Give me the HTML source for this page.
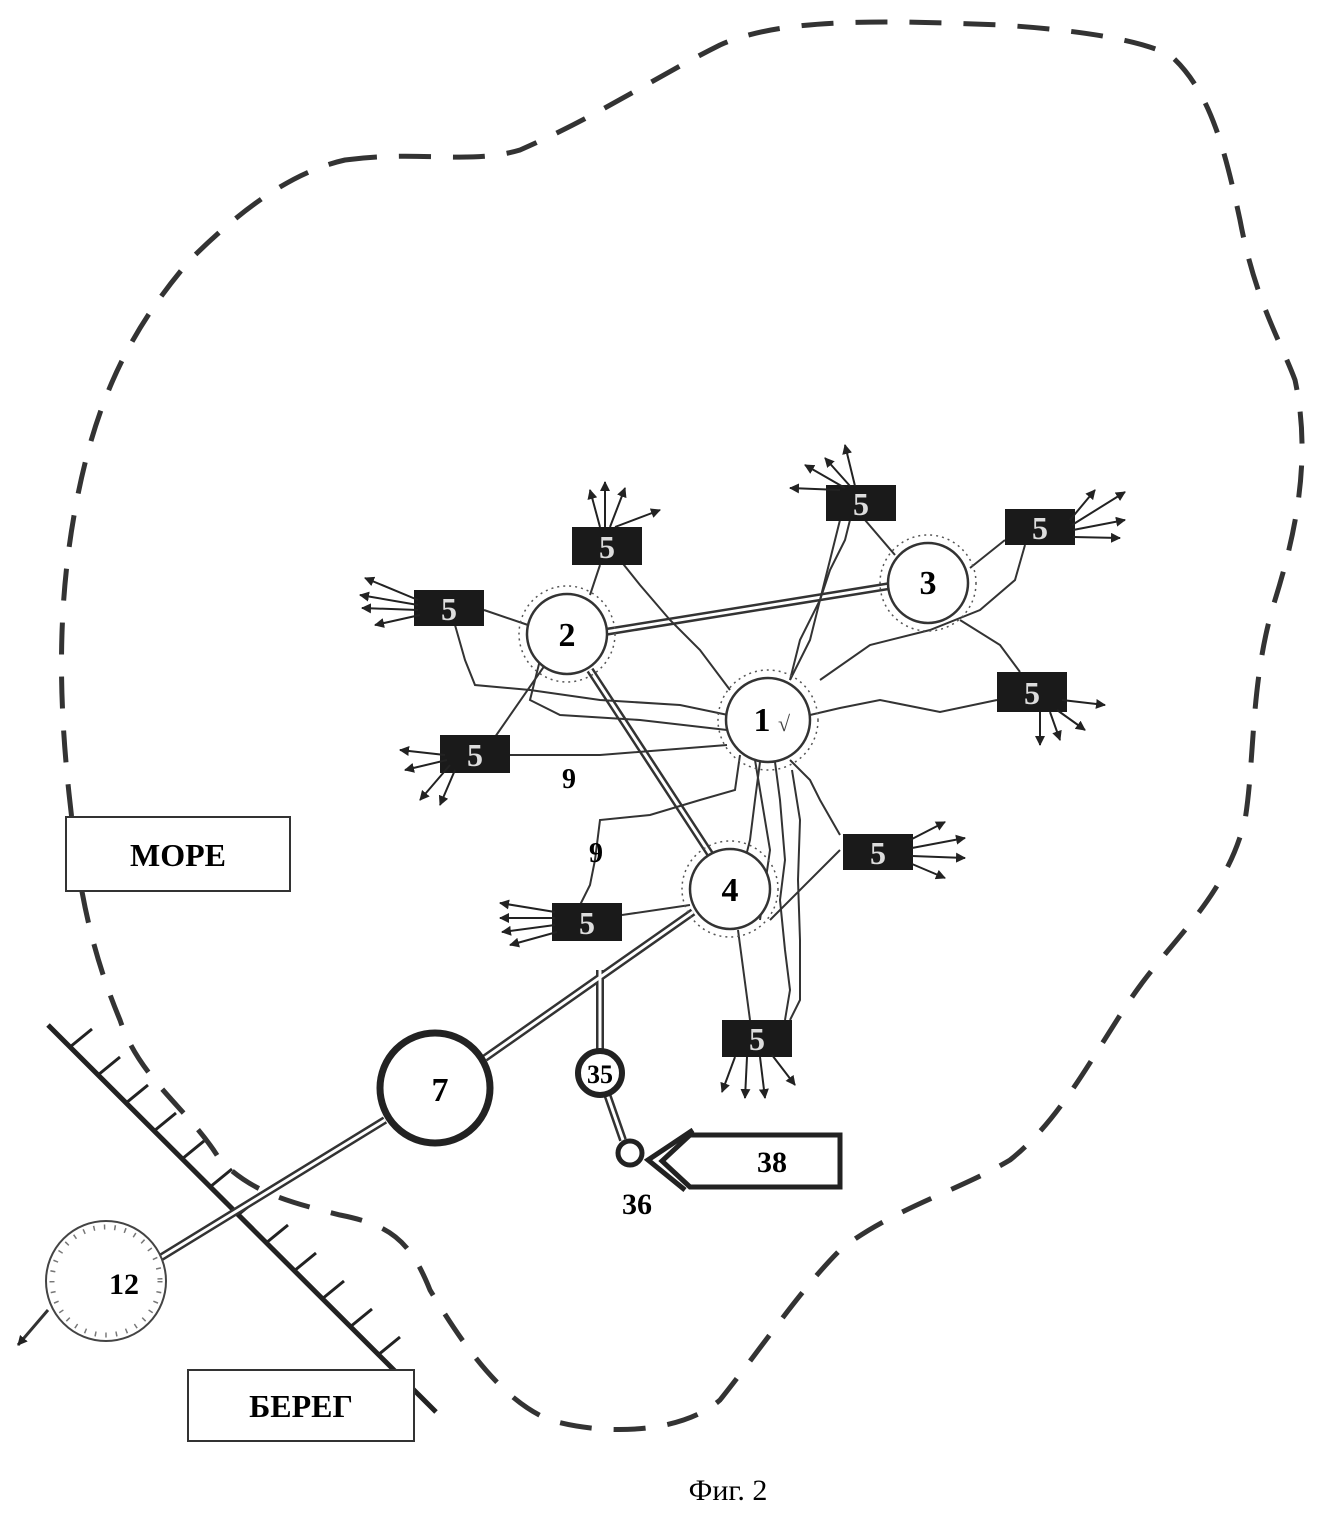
<!DOCTYPE html>
<html><head><meta charset="utf-8"><style>
html,body{margin:0;padding:0;background:#fff;}
svg{display:block;}
text{font-family:"Liberation Serif",serif;font-weight:bold;}
</style></head><body>
<svg width="1329" height="1526" viewBox="0 0 1329 1526" xmlns="http://www.w3.org/2000/svg">
<defs>
<marker id="ar" markerWidth="10" markerHeight="10" refX="9" refY="5" orient="auto" markerUnits="userSpaceOnUse"><path d="M0,0 L10,5 L0,10 Z" fill="#222"/></marker>
</defs>
<path d="M345,160 C420,150 470,165 520,150 C600,115 650,80 720,45 C780,18 880,20 1000,25 C1080,30 1140,40 1170,55 C1210,90 1225,150 1240,220 C1255,300 1280,340 1295,380 C1310,450 1300,520 1275,600 C1250,680 1255,760 1245,820 C1225,900 1170,940 1130,1000 C1090,1060 1060,1120 1010,1160 C960,1190 890,1210 840,1250 C800,1290 760,1350 720,1400 C680,1435 600,1435 550,1420 C500,1400 460,1340 430,1290 C410,1240 390,1225 340,1215 C280,1200 250,1190 220,1160 C190,1110 140,1080 120,1020 C95,960 80,900 72,820 C60,720 55,620 75,510 C95,400 130,330 190,260 C250,200 300,170 345,160 Z" fill="none" stroke="#333" stroke-width="5" stroke-dasharray="32,22"/>
<line x1="48" y1="1025" x2="436" y2="1412" stroke="#222" stroke-width="5"/>
<g stroke="#222" stroke-width="3">
<path d="M70,1047 l22,-18 M98,1075 l22,-18 M126,1103 l22,-18 M154,1131 l22,-18 M182,1159 l22,-18 M210,1187 l22,-18 M238,1215 l22,-18 M266,1243 l22,-18 M294,1271 l22,-18 M322,1299 l22,-18 M350,1327 l22,-18 M378,1355 l22,-18"/>
</g>
<g stroke="#333" stroke-width="8" fill="none"><path d="M605,632 L890,586 M590,670 L714,860 M693,912 L485,1058 M385,1120 L160,1258 M600,970 L600,1050 M607,1094 L623,1140"/></g>
<g stroke="#fff" stroke-width="3" fill="none"><path d="M605,632 L890,586 M590,670 L714,860 M693,912 L485,1058 M385,1120 L160,1258 M600,970 L600,1050 M607,1094 L623,1140"/></g>
<line x1="48" y1="1310" x2="18" y2="1345" stroke="#333" stroke-width="3" marker-end="url(#ar)"/>
<g stroke="#333" stroke-width="2" fill="none">
<path d="M528,625 L484,610 M600,565 L590,595 M620,560 L640,585 L670,620 L700,650 L730,690"/>
<path d="M455,625 L465,660 L475,685 L530,690 L600,700 L680,705 L728,715"/>
<path d="M540,660 L530,700 L560,715 L640,720 L727,730"/>
<path d="M545,665 L495,737 M510,755 L600,755 L727,745"/>
<path d="M850,520 L845,540 L830,570 L820,600 L810,640 L790,680"/>
<path d="M865,520 L895,555 M970,568 L1005,540 M1025,545 L1015,580 L980,610 L930,630 L870,645 L820,680"/>
<path d="M960,620 L1000,645 L1020,672 M997,700 L940,712 L880,700 L840,708 L810,715"/>
<path d="M840,520 L830,560 L820,600 L800,640 L790,680"/>
<path d="M740,755 L735,790 L700,800 L650,815 L600,820 L595,860 L590,885 L580,905"/>
<path d="M760,762 L755,800 L750,840 L745,860 M775,762 L780,800 L785,860 L780,900 L785,950 L790,990 L785,1020"/>
<path d="M790,760 L810,780 L820,800 L840,835 M770,920 L840,850 M792,770 L800,820 L798,880 L800,940 L800,1000 L790,1020"/>
<path d="M690,905 L622,915 M738,930 L750,1020 M755,760 L770,850 L760,920"/>
</g>
<g stroke="#555" stroke-width="1.5" stroke-dasharray="2,4" fill="none">
<circle cx="567" cy="634" r="48"/><circle cx="928" cy="583" r="48"/><circle cx="768" cy="720" r="50"/><circle cx="730" cy="889" r="48"/>
</g>
<g stroke="#333" stroke-width="2.5" fill="#fff">
<circle cx="567" cy="634" r="40"/><circle cx="928" cy="583" r="40"/><circle cx="768" cy="720" r="42"/><circle cx="730" cy="889" r="40"/>
</g>
<circle cx="435" cy="1088" r="55" fill="#fff" stroke="#222" stroke-width="7"/>
<circle cx="106" cy="1281" r="60" fill="#fff" stroke="#444" stroke-width="2"/>
<circle cx="106" cy="1281" r="54" fill="none" stroke="#777" stroke-width="5" stroke-dasharray="1.5,9"/>
<circle cx="600" cy="1073" r="22" fill="#fff" stroke="#222" stroke-width="6"/>
<circle cx="630" cy="1153" r="12" fill="#fff" stroke="#222" stroke-width="5"/>
<path d="M690,1135 L840,1135 L840,1187 L690,1187 L662,1161 Z" fill="#fff" stroke="#222" stroke-width="5"/>
<path d="M693,1130 L648,1160 L685,1190" fill="none" stroke="#222" stroke-width="5"/>
<g font-size="34" text-anchor="middle">
<text x="567" y="646">2</text><text x="928" y="594">3</text><text x="762" y="731">1</text><text x="730" y="901">4</text>
<text x="440" y="1101">7</text><text x="124" y="1294" font-size="30">12</text>
<text x="600" y="1083" font-size="26">35</text><text x="772" y="1172" font-size="30">38</text>
<text x="637" y="1214" font-size="30">36</text>
<text x="569" y="788" font-size="28">9</text><text x="596" y="862" font-size="28">9</text>
</g>
<text x="778" y="731" font-size="22" fill="#444" style="font-weight:normal">√</text>
<g fill="#1a1a1a">
<rect x="572" y="527" width="70" height="38"/><rect x="826" y="485" width="70" height="36"/><rect x="1005" y="509" width="70" height="36"/>
<rect x="414" y="590" width="70" height="36"/><rect x="997" y="672" width="70" height="40"/><rect x="440" y="735" width="70" height="38"/>
<rect x="843" y="834" width="70" height="36"/><rect x="552" y="903" width="70" height="38"/><rect x="722" y="1020" width="70" height="37"/>
</g>
<g fill="#ddd" font-size="32" text-anchor="middle">
<text x="607" y="558">5</text><text x="861" y="515">5</text><text x="1040" y="539">5</text><text x="449" y="620">5</text><text x="1032" y="704">5</text><text x="475" y="766">5</text><text x="878" y="864">5</text><text x="587" y="934">5</text><text x="757" y="1050">5</text>
</g>
<g stroke="#222" stroke-width="2" marker-end="url(#ar)">
<line x1="600" y1="527" x2="590" y2="490"/><line x1="605" y1="527" x2="605" y2="482"/><line x1="610" y1="527" x2="625" y2="488"/><line x1="615" y1="527" x2="660" y2="510"/>
<line x1="840" y1="490" x2="790" y2="488"/><line x1="845" y1="488" x2="805" y2="465"/><line x1="850" y1="486" x2="825" y2="458"/><line x1="855" y1="486" x2="845" y2="445"/>
<line x1="1070" y1="520" x2="1095" y2="490"/><line x1="1072" y1="525" x2="1125" y2="492"/><line x1="1073" y1="530" x2="1125" y2="520"/><line x1="1073" y1="537" x2="1120" y2="538"/>
<line x1="418" y1="600" x2="365" y2="578"/><line x1="418" y1="605" x2="360" y2="595"/><line x1="418" y1="610" x2="362" y2="608"/><line x1="420" y1="615" x2="375" y2="625"/>
<line x1="1040" y1="712" x2="1040" y2="745"/><line x1="1050" y1="712" x2="1060" y2="740"/><line x1="1057" y1="710" x2="1085" y2="730"/><line x1="1062" y1="700" x2="1105" y2="705"/>
<line x1="445" y1="755" x2="400" y2="750"/><line x1="447" y1="760" x2="405" y2="770"/><line x1="450" y1="765" x2="420" y2="800"/><line x1="455" y1="770" x2="440" y2="805"/>
<line x1="910" y1="840" x2="945" y2="822"/><line x1="912" y1="848" x2="965" y2="838"/><line x1="912" y1="856" x2="965" y2="858"/><line x1="912" y1="864" x2="945" y2="878"/>
<line x1="555" y1="912" x2="500" y2="903"/><line x1="555" y1="918" x2="500" y2="918"/><line x1="555" y1="925" x2="502" y2="932"/><line x1="557" y1="932" x2="510" y2="945"/>
<line x1="735" y1="1057" x2="722" y2="1092"/><line x1="747" y1="1057" x2="745" y2="1098"/><line x1="760" y1="1057" x2="765" y2="1098"/><line x1="772" y1="1055" x2="795" y2="1085"/>
</g>
<rect x="66" y="817" width="224" height="74" fill="#fff" stroke="#333" stroke-width="2"/>
<text x="178" y="866" font-size="32" text-anchor="middle">МОРЕ</text>
<rect x="188" y="1370" width="226" height="71" fill="#fff" stroke="#333" stroke-width="2"/>
<text x="301" y="1417" font-size="32" text-anchor="middle">БЕРЕГ</text>
<text x="728" y="1500" font-size="30" text-anchor="middle" style="font-weight:normal">Фиг. 2</text>
</svg>
</body></html>
